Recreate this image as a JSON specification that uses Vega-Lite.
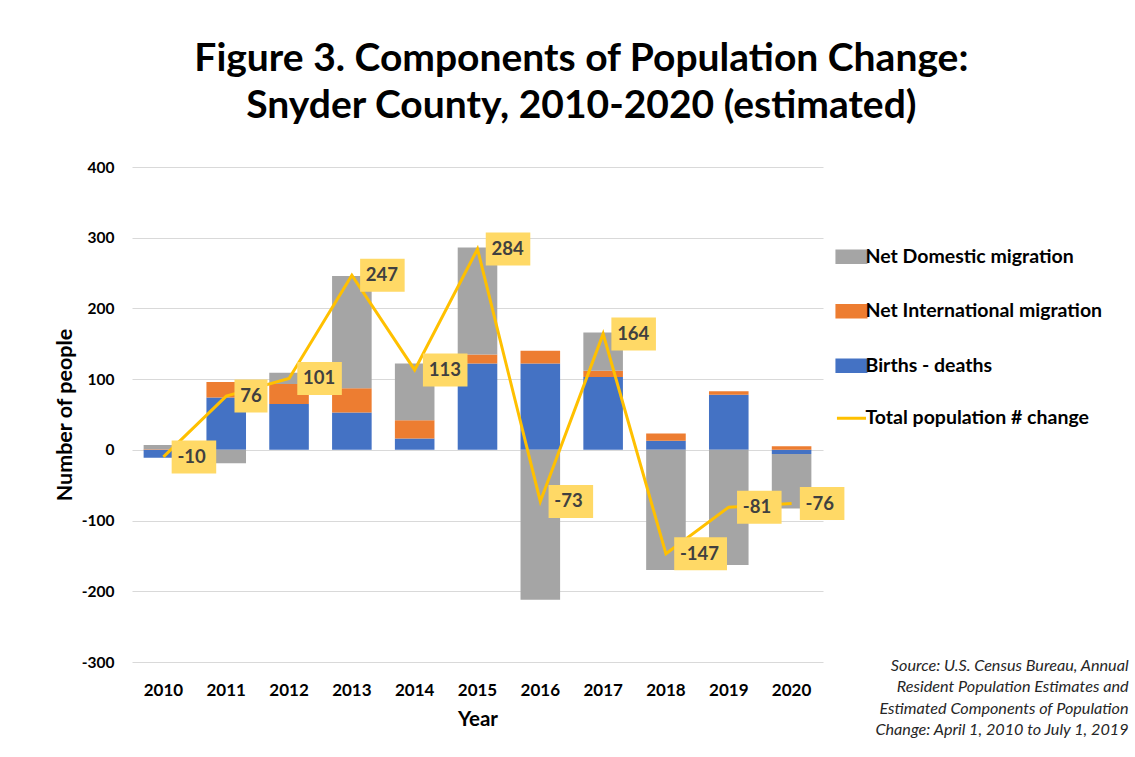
{
  "$schema": "https://vega.github.io/schema/vega-lite/v6.json",
  "width": 691,
  "height": 495,
  "autosize": "none",
  "padding": {"left": 132, "top": 167, "right": 312, "bottom": 95},
  "background": "white",
  "config": {
    "font": "Lato",
    "view": {"stroke": null},
    "axis": {"domain": false, "ticks": false, "tickSize": 0}
  },
  "title": {
    "text": ["Figure 3. Components of Population Change:", "Snyder County, 2010-2020 (estimated)"],
    "font": "Lato",
    "fontSize": 39,
    "fontWeight": "bold",
    "color": "black",
    "lineHeight": 47,
    "anchor": "middle",
    "frame": "bounds",
    "offset": 34,
    "dx": -10
  },
  "data": {
    "values": [
      {"year": 2010, "Births - deaths": -11, "Net International migration": 1, "Net Domestic migration": 6, "Total": -10},
      {"year": 2011, "Births - deaths": 74, "Net International migration": 22, "Net Domestic migration": -19, "Total": 76},
      {"year": 2012, "Births - deaths": 65, "Net International migration": 28, "Net Domestic migration": 16, "Total": 101},
      {"year": 2013, "Births - deaths": 53, "Net International migration": 34, "Net Domestic migration": 159, "Total": 247},
      {"year": 2014, "Births - deaths": 16, "Net International migration": 26, "Net Domestic migration": 80, "Total": 113},
      {"year": 2015, "Births - deaths": 122, "Net International migration": 13, "Net Domestic migration": 151, "Total": 284},
      {"year": 2016, "Births - deaths": 122, "Net International migration": 18, "Net Domestic migration": -212, "Total": -73},
      {"year": 2017, "Births - deaths": 103, "Net International migration": 9, "Net Domestic migration": 54, "Total": 164},
      {"year": 2018, "Births - deaths": 13, "Net International migration": 10, "Net Domestic migration": -170, "Total": -147},
      {"year": 2019, "Births - deaths": 78, "Net International migration": 5, "Net Domestic migration": -163, "Total": -81},
      {"year": 2020, "Births - deaths": -6, "Net International migration": 5, "Net Domestic migration": -77, "Total": -76}
    ]
  },
  "encoding": {
    "x": {
      "field": "year",
      "type": "ordinal",
      "scale": {"paddingInner": 0.37, "paddingOuter": 0.185},
      "axis": {
        "title": "Year",
        "titleFontSize": 20.5,
        "titleFontWeight": "bold",
        "titleColor": "black",
        "titlePadding": 11,
        "labelFontSize": 17,
        "labelFontWeight": "bold",
        "labelColor": "black",
        "labelPadding": 20,
        "labelAngle": 0,
        "grid": false
      }
    }
  },
  "layer": [
    {
      "transform": [
        {"fold": ["Births - deaths", "Net International migration", "Net Domestic migration"], "as": ["component", "value"]},
        {"calculate": "indexof(['Births - deaths','Net International migration','Net Domestic migration'], datum.component)", "as": "stackOrder"}
      ],
      "mark": {"type": "bar"},
      "encoding": {
        "y": {
          "field": "value",
          "type": "quantitative",
          "stack": "zero",
          "scale": {"domain": [-300, 400], "nice": false},
          "axis": {
            "title": "Number of people",
            "titleFontSize": 21.5,
            "titleFontWeight": "bold",
            "titleColor": "black",
            "titlePadding": 5,
            "labelFontSize": 15.5,
            "labelFontWeight": "bold",
            "labelColor": "black",
            "labelPadding": 18,
            "grid": true,
            "gridColor": "#D9D9D9",
            "gridWidth": 1,
            "values": [-300, -200, -100, 0, 100, 200, 300, 400],
            "labelExpr": "'' + datum.value"
          }
        },
        "color": {
          "field": "component",
          "type": "nominal",
          "scale": {
            "domain": ["Net Domestic migration", "Net International migration", "Births - deaths", "Total population # change"],
            "range": ["#A5A5A5", "#ED7D31", "#4472C4", "#FFC000"]
          },
          "legend": {
            "title": null,
            "orient": "none",
            "legendX": 701,
            "legendY": 80,
            "labelFont": "Lato",
            "labelFontSize": 19.5,
            "labelFontWeight": "bold",
            "labelColor": "black",
            "labelLimit": 400,
            "symbolType": "M-1,-1H4V1H-1Z",
            "symbolSize": 135,
            "labelOffset": 13,
            "rowPadding": 29.5,
            "encode": {
              "symbols": {
                "update": {
                  "shape": {"signal": "datum.label === 'Total population # change' ? 'M-1,0H4' : 'M-1,-1H4V1H-1Z'"},
                  "fill": {"signal": "datum.label === 'Net Domestic migration' ? '#A5A5A5' : datum.label === 'Net International migration' ? '#ED7D31' : datum.label === 'Births - deaths' ? '#4472C4' : 'transparent'"},
                  "stroke": {"signal": "datum.label === 'Total population # change' ? '#FFC000' : 'transparent'"},
                  "strokeWidth": {"value": 3},
                  "opacity": {"value": 1},
                  "fillOpacity": {"value": 1},
                  "strokeOpacity": {"value": 1}
                }
              }
            }
          }
        },
        "order": {"field": "stackOrder", "type": "quantitative", "sort": "ascending"}
      }
    },
    {
      "mark": {"type": "rule", "color": "black", "strokeWidth": 3},
      "encoding": {"y": {"datum": 0, "type": "quantitative"}}
    },
    {
      "mark": {"type": "line", "strokeWidth": 3},
      "encoding": {
        "y": {"field": "Total", "type": "quantitative"},
        "color": {"datum": "Total population # change", "type": "nominal"}
      }
    },
    {
      "mark": {"type": "point", "filled": true, "color": "#FFD966", "opacity": 1, "size": 1089, "strokeWidth": 0},
      "encoding": {
        "y": {"field": "Total", "type": "quantitative"},
        "shape": {
          "condition": [
            {"test": "length('' + datum.Total) == 2", "value": "M0.5,-1H2.5V1H0.5Z"},
            {"test": "length('' + datum.Total) == 4", "value": "M0.5,-1H3.7V1H0.5Z"}
          ],
          "value": "M0.5,-1H3.2V1H0.5Z"
        }
      }
    },
    {
      "mark": {"type": "text", "align": "left", "baseline": "middle", "dx": 14, "fontSize": 18.5, "fontWeight": "bold", "color": "#404040", "font": "Lato"},
      "encoding": {
        "y": {"field": "Total", "type": "quantitative"},
        "text": {"field": "Total", "type": "nominal"}
      }
    },
    {
      "data": {"values": [{"note": "source"}]},
      "mark": {"type": "text", "align": "right", "baseline": "top", "dx": 337, "dy": -4, "fontSize": 16.2, "fontStyle": "italic", "color": "#262626", "font": "Lato", "lineHeight": 21.3},
      "encoding": {
        "x": {"datum": 2020, "type": "ordinal"},
        "y": {"datum": -300, "type": "quantitative"},
        "text": {"value": ["Source: U.S. Census Bureau, Annual", "Resident Population Estimates and", "Estimated Components of Population", "Change: April 1, 2010 to July 1, 2019"]}
      }
    }
  ]
}
